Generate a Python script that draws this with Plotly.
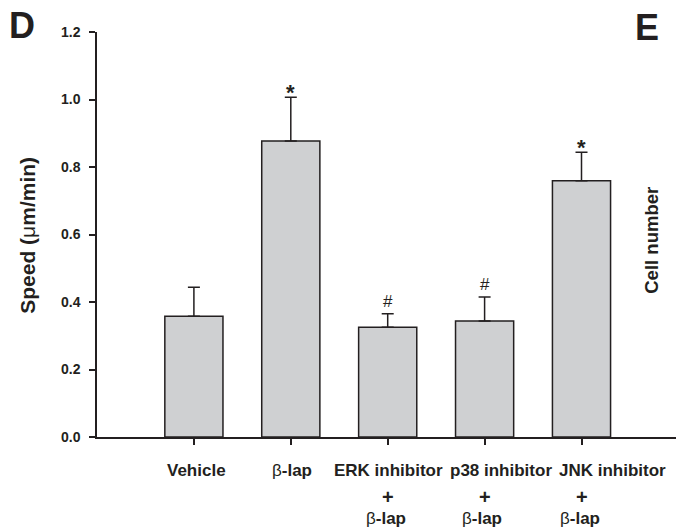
import plotly.graph_objects as go

# Migration speed per treatment group (mean + SEM)
groups_line1 = ["Vehicle", "β-lap", "ERK inhibitor", "p38 inhibitor", "JNK inhibitor"]
groups_line2 = ["", "", "+", "+", "+"]
groups_line3 = ["", "", "β-lap", "β-lap", "β-lap"]
speed_mean = [0.358, 0.877, 0.325, 0.344, 0.759]
speed_sem = [0.086, 0.130, 0.040, 0.071, 0.085]
sig_marks = ["", "*", "#", "#", "*"]
y_ticks = [0.0, 0.2, 0.4, 0.6, 0.8, 1.0, 1.2]

INK = "#231f20"
FILL = "#cfd0d2"
FONT = "Liberation Sans, Arial, sans-serif"

W, H = 676, 531
ML, MR, MT, MB = 97, 0, 32, 93.5
PW, PH = W - ML - MR, H - MT - MB

# horizontal nudges (px) that spread the long first-line labels apart
line1_nudge = [3, 1, 1, 16, 31]
line3_nudge = [0, 0, -2, -3, -2]


def paper_x(px):
    return (px - ML) / PW


def paper_y(py):
    return (H - MB - py) / PH


def greek_bold(s):
    # Greek letters in the regular face, the rest in bold
    out = ""
    for ch in s:
        out += ch if ch in "βμ" else f"<b>{ch}</b>"
    return out.replace("</b><b>", "")


xpos = list(range(1, len(groups_line1) + 1))

fig = go.Figure()
fig.add_trace(go.Bar(
    x=xpos, y=speed_mean, width=0.6,
    marker=dict(color=FILL, line=dict(color=INK, width=1.5)),
    error_y=dict(type="data", symmetric=False, array=speed_sem,
                 arrayminus=[0] * len(speed_sem),
                 color=INK, thickness=1.5, width=6),
    hoverinfo="skip",
))

annotations = []
# significance markers above the error caps
for x, m, e, s in zip(xpos, speed_mean, speed_sem, sig_marks):
    if s == "*":
        annotations.append(dict(
            x=x, y=m + e, xref="x", yref="y", text="<b>*</b>",
            showarrow=False, yanchor="middle", yshift=5,
            font=dict(family=FONT, size=22, color=INK)))
    elif s == "#":
        annotations.append(dict(
            x=x, y=m + e, xref="x", yref="y", text="#",
            showarrow=False, yanchor="middle", yshift=12,
            font=dict(family=FONT, size=17, color=INK)))

# category labels, three lines under each bar
for lines, shift, nudge, size in ((groups_line1, -33, line1_nudge, 17),
                                  (groups_line2, -59.5, [0] * 5, 20),
                                  (groups_line3, -81, line3_nudge, 17)):
    for x, t, dx in zip(xpos, lines, nudge):
        if t:
            annotations.append(dict(
                x=x, y=0, xref="x", yref="y", text=greek_bold(t),
                showarrow=False, yanchor="middle", yshift=shift, xshift=dx,
                font=dict(family=FONT, size=size, color=INK)))

# axis title and panel letters
annotations += [
    dict(x=paper_x(28), y=paper_y(236), xref="paper", yref="paper",
         text="<b>Speed (</b>μ<b>m/min)</b>", textangle=-90, showarrow=False,
         xanchor="center", yanchor="middle",
         font=dict(family=FONT, size=21, color=INK)),
    dict(x=paper_x(21.5), y=paper_y(25.5), xref="paper", yref="paper",
         text="<b>D</b>", showarrow=False, xanchor="center", yanchor="middle",
         font=dict(family=FONT, size=36, color=INK)),
    dict(x=paper_x(647), y=paper_y(27), xref="paper", yref="paper",
         text="<b>E</b>", showarrow=False, xanchor="center", yanchor="middle",
         font=dict(family=FONT, size=36, color=INK)),
    dict(x=paper_x(652), y=paper_y(241), xref="paper", yref="paper",
         text="<b>Cell number</b>", textangle=-90, showarrow=False,
         xanchor="center", yanchor="middle",
         font=dict(family=FONT, size=18.5, color=INK)),
]

fig.update_layout(
    width=W, height=H,
    margin=dict(l=ML, r=MR, t=MT, b=MB, pad=0),
    paper_bgcolor="white", plot_bgcolor="white",
    showlegend=False,
    annotations=annotations,
    xaxis=dict(range=[0, PW / 96.9], tickvals=xpos, showticklabels=False,
               ticks="outside", ticklen=6, tickwidth=1.5, tickcolor=INK,
               showline=True, linecolor=INK, linewidth=1.5,
               showgrid=False, zeroline=False, fixedrange=True),
    yaxis=dict(range=[0, 1.2], tickvals=y_ticks,
               ticktext=[f"{v:.1f}" for v in y_ticks],
               ticks="outside", ticklen=6, tickwidth=1.5, tickcolor=INK,
               ticklabelstandoff=6,
               tickfont=dict(family=FONT, size=14, color=INK, weight="bold"),
               showline=True, linecolor=INK, linewidth=1.5,
               showgrid=False, zeroline=False, fixedrange=True),
)

fig.write_html("out.html")
